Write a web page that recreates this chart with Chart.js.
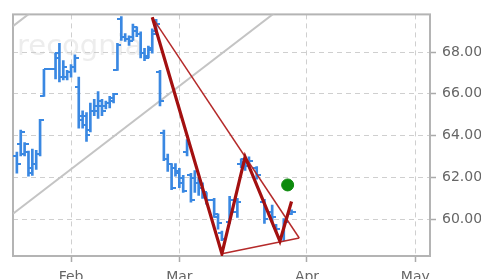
<!DOCTYPE html>
<html>
<head>
<meta charset="utf-8">
<script src="https://cdn.jsdelivr.net/npm/chart.js@4.4.0/dist/chart.umd.min.js"></script>
<style>
  html, body { margin: 0; padding: 0; background: #fff; overflow: hidden; }
  #wrap { position: absolute; left: 0; top: 0; width: 490px; height: 288px; }
</style>
</head>
<body>
<div id="wrap"><canvas id="chart"></canvas></div>
<script>
// daily price bars (OHLC)
const dates = [
  '2006-01-18', '2006-01-19', '2006-01-20', '2006-01-21', '2006-01-22', '2006-01-23', '2006-01-24',
  '2006-01-25', '2006-01-26', '2006-01-27', '2006-01-28', '2006-01-29', '2006-01-30', '2006-01-31',
  '2006-02-01', '2006-02-02', '2006-02-03', '2006-02-04', '2006-02-05', '2006-02-06', '2006-02-07',
  '2006-02-08', '2006-02-09', '2006-02-10', '2006-02-11', '2006-02-12', '2006-02-13', '2006-02-14',
  '2006-02-15', '2006-02-16', '2006-02-17', '2006-02-18', '2006-02-19', '2006-02-20', '2006-02-21',
  '2006-02-22', '2006-02-23', '2006-02-24', '2006-02-25', '2006-02-26', '2006-02-27', '2006-02-28',
  '2006-03-01', '2006-03-02', '2006-03-03', '2006-03-04', '2006-03-05', '2006-03-06', '2006-03-07',
  '2006-03-08', '2006-03-10', '2006-03-11', '2006-03-12', '2006-03-14', '2006-03-16', '2006-03-17',
  '2006-03-18', '2006-03-19', '2006-03-21', '2006-03-23', '2006-03-25', '2006-03-26', '2006-03-28',
  '2006-03-30'
]
const opens = [
  63.03, 63.58, 63.12, 63.21, 62.43, 62.66, 63.12,
  65.88, 67.17, 67.17, 67.17, 67.95, 66.80, 66.80,
  67.03, 67.26, 66.34, 64.73, 64.50, 64.27, 65.19,
  65.19, 65.42, 65.42, 65.56, 65.65, 67.12, 69.57,
  68.74, 68.64, 68.74, 69.01, 68.88, 67.95, 67.82,
  68.18, 69.01, 67.03, 64.13, 62.89, 62.66, 62.43,
  62.20, 61.97, 63.21, 62.10, 61.97, 61.74, 61.51,
  61.05, 60.91, 60.12, 59.34, 59.89, 60.35, 62.66,
  62.89, 62.75, 62.43, 60.81, 60.35, 59.66, 59.20,
  60.26
]
const highs = [
  63.21, 64.27, 63.67, 63.26, 63.35, 63.30, 64.78,
  67.17, 67.17, 67.17, 67.95, 68.41, 67.59, 67.12,
  67.40, 67.86, 66.80, 65.19, 65.10, 65.56, 65.74,
  66.11, 65.74, 65.65, 65.88, 66.02, 68.41, 69.70,
  68.88, 68.78, 69.34, 69.20, 68.97, 68.18, 68.28,
  69.11, 69.57, 67.12, 64.27, 63.12, 62.66, 62.66,
  62.43, 62.10, 63.81, 62.20, 62.33, 61.97, 61.74,
  61.28, 61.00, 60.26, 59.43, 61.09, 61.00, 62.89,
  62.98, 62.98, 62.52, 60.95, 60.68, 59.76, 60.03,
  60.45
]
const lows = [
  62.20, 63.03, 63.03, 62.06, 62.10, 62.38, 63.03,
  65.88, 67.17, 67.17, 66.71, 66.57, 66.66, 66.66,
  66.80, 67.03, 64.36, 64.36, 63.72, 64.18, 64.96,
  64.82, 64.96, 65.28, 65.33, 65.56, 67.12, 68.55,
  68.51, 68.32, 68.55, 68.74, 67.72, 67.59, 67.72,
  67.95, 68.88, 65.42, 62.80, 62.29, 61.41, 62.06,
  61.51, 61.28, 63.03, 60.81, 61.28, 61.14, 61.00,
  60.72, 60.08, 59.52, 58.97, 59.80, 60.08, 62.47,
  62.33, 62.52, 61.92, 59.80, 59.85, 59.43, 58.97,
  60.22
]
const closes = [
  62.66, 64.18, 63.58, 62.20, 62.66, 63.12, 64.73,
  67.17, 67.17, 67.17, 67.72, 66.80, 67.26, 67.03,
  67.26, 67.72, 64.96, 64.96, 64.04, 65.19, 65.42,
  65.65, 65.19, 65.56, 65.79, 65.97, 68.32, 68.74,
  68.64, 68.51, 69.20, 68.88, 67.95, 67.72, 68.09,
  68.88, 69.34, 65.65, 62.89, 62.66, 61.51, 62.29,
  61.74, 61.37, 63.58, 60.91, 61.74, 61.51, 61.28,
  60.91, 60.26, 59.80, 59.06, 60.91, 60.81, 62.75,
  62.57, 62.80, 62.10, 59.99, 60.12, 59.52, 59.89,
  60.35
]

// zigzag pattern (thick red) and its triangle (thin red)
const zigzagDates = ['2006-02-22', '2006-03-12', '2006-03-18', '2006-03-27', '2006-03-30']
const zigzagValues = [69.66, 58.35, 62.98, 58.95, 60.85]
const triUpperDates = ['2006-02-22', '2006-04-01']
const triUpperValues = [69.66, 59.10]
const triLowerDates = ['2006-03-12', '2006-04-01']
const triLowerValues = [58.35, 59.10]

// grey channel lines
const channelLowDates = ['2006-01-17', '2006-04-30']
const channelLowValues = [60.26, 74.9]
const channelHighDates = ['2006-01-17', '2006-02-15']
const channelHighValues = [69.24, 73.36]

// target dot
const targetDates = ['2006-03-29']
const targetValues = [61.64]

// axes
const monthTickDates = ['2006-02-01', '2006-03-01', '2006-04-03', '2006-05-01']
const monthTickLabels = ['Feb', 'Mar', 'Apr', 'May']
const priceTicks = [60, 62, 64, 66, 68]

const BLUE = '#3a88e2'

function dayOf(s) {
  const [y, m, d] = s.split('-').map(Number)
  return (Date.UTC(y, m - 1, d) - Date.UTC(y, 0, 1)) / 86400000
}
function pts(ds, vs) {
  return ds.map((d, i) => ({ x: dayOf(d), y: vs[i] }))
}
function tickImage(side) {
  const c = document.createElement('canvas')
  c.width = 8
  c.height = 2
  const g = c.getContext('2d')
  g.fillStyle = BLUE
  g.fillRect(side === 'left' ? 0 : 4, 0, 4, 2)
  return c
}

const monthDays = monthTickDates.map(dayOf)

const frameAndWatermark = {
  id: 'frameAndWatermark',
  beforeDatasetsDraw(chart) {
    const { ctx, chartArea: a } = chart
    ctx.save()
    ctx.fillStyle = 'rgba(200,200,200,0.32)'
    ctx.font = '29px "DejaVu Sans"'
    ctx.textBaseline = 'alphabetic'
    ctx.fillText('recognia', a.left + 4, a.top + 41)
    ctx.strokeStyle = '#b4b4b4'
    ctx.lineWidth = 2
    ctx.strokeRect(a.left, a.top, a.right - a.left, a.bottom - a.top)
    ctx.restore()
  }
}

const lineDs = (data, color, width, order) => ({
  type: 'line', data, borderColor: color, borderWidth: width,
  pointRadius: 0, fill: false, tension: 0, order
})

new Chart(document.getElementById('chart'), {
  type: 'bar',
  data: {
    datasets: [
      {
        type: 'line', data: pts(targetDates, targetValues), showLine: false,
        pointRadius: 6, pointBackgroundColor: '#0d8a0d', pointBorderColor: '#0d8a0d',
        pointBorderWidth: 1, order: 0
      },
      lineDs(pts(zigzagDates, zigzagValues), '#a31010', 3.2, 1),
      lineDs(pts(triUpperDates, triUpperValues), '#b52a2a', 1.5, 2),
      lineDs(pts(triLowerDates, triLowerValues), '#b52a2a', 1.5, 2),
      {
        type: 'line', data: pts(dates, opens), showLine: false,
        pointStyle: tickImage('left'), pointRadius: 1, order: 3
      },
      {
        type: 'line', data: pts(dates, closes), showLine: false,
        pointStyle: tickImage('right'), pointRadius: 1, order: 3
      },
      {
        type: 'bar',
        data: dates.map((d, i) => ({ x: dayOf(d), y: [lows[i], highs[i]] })),
        backgroundColor: BLUE, barThickness: 2, grouped: false, order: 4
      },
      lineDs(pts(channelLowDates, channelLowValues), '#c4c4c4', 2, 5),
      lineDs(pts(channelHighDates, channelHighValues), '#c4c4c4', 2, 5)
    ]
  },
  options: {
    responsive: true,
    maintainAspectRatio: false,
    animation: false,
    events: [],
    layout: { padding: { left: 13, top: 5, right: 0, bottom: 0 } },
    plugins: { legend: { display: false }, tooltip: { enabled: false } },
    scales: {
      x: {
        type: 'linear',
        min: 16,
        max: 123.8,
        offset: false,
        afterBuildTicks: (s) => { s.ticks = monthDays.map(v => ({ value: v })) },
        afterFit: (s) => { s.height = 32 },
        ticks: {
          callback: (v, i) => monthTickLabels[i],
          color: '#666',
          font: { family: 'DejaVu Sans', size: 14 },
          padding: 7,
          maxRotation: 0,
          autoSkip: false
        },
        grid: { offset: false, color: '#cfcfcf', lineWidth: 1, tickLength: 6, tickColor: '#aaa', tickWidth: 1.5 },
        border: { display: false, dash: [5, 4] }
      },
      y: {
        type: 'linear',
        position: 'right',
        min: 58.24,
        max: 69.8,
        afterBuildTicks: (s) => { s.ticks = priceTicks.map(v => ({ value: v })) },
        afterFit: (s) => { s.width = 60 },
        ticks: {
          callback: (v) => v.toFixed(2),
          color: '#666',
          font: { family: 'DejaVu Sans', size: 14 },
          padding: 6
        },
        grid: { color: '#cfcfcf', lineWidth: 1, tickLength: 6, tickColor: '#aaa', tickWidth: 1.5 },
        border: { display: false, dash: [5, 4] }
      }
    }
  },
  plugins: [frameAndWatermark]
})
</script>
</body>
</html>
